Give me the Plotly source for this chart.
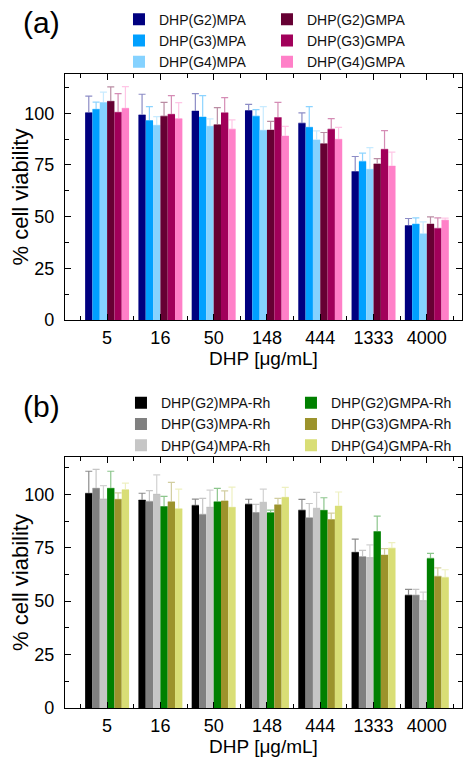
import plotly.graph_objects as go
from plotly.subplots import make_subplots

conc_labels = ["5", "16", "50", "148", "444", "1333", "4000"]

# Panel (a)
a_names = ["DHP(G2)MPA", "DHP(G3)MPA", "DHP(G4)MPA", "DHP(G2)GMPA", "DHP(G3)GMPA", "DHP(G4)GMPA"]
a_g2mpa = [100.3, 99.2, 101.1, 101.3, 95.2, 71.8, 45.7]
a_g2mpa_err = [8.0, 10.0, 8.4, 3.0, 5.0, 7.3, 3.4]
a_g3mpa = [101.9, 96.5, 98.2, 98.6, 93.2, 76.7, 46.4]
a_g3mpa_err = [3.5, 6.7, 10.3, 3.2, 10.0, 4.0, 3.0]
a_g4mpa = [105.2, 94.2, 93.7, 91.8, 87.1, 72.9, 41.7]
a_g4mpa_err = [5.0, 4.2, 3.6, 11.4, 4.4, 10.5, 5.8]
a_g2gmpa = [105.8, 98.6, 94.5, 91.9, 85.3, 75.5, 46.4]
a_g2gmpa_err = [7.0, 6.7, 8.2, 4.2, 5.4, 2.6, 3.5]
a_g3gmpa = [100.5, 99.5, 100.2, 97.9, 92.3, 82.6, 44.3]
a_g3gmpa_err = [9.0, 9.0, 7.4, 7.4, 5.1, 9.0, 5.1]
a_g4gmpa = [102.4, 97.4, 92.3, 89.0, 87.4, 74.5, 48.3]
a_g4gmpa_err = [10.5, 7.8, 4.5, 4.7, 5.8, 6.7, 1.0]

# Panel (b)
b_names = ["DHP(G2)MPA-Rh", "DHP(G3)MPA-Rh", "DHP(G4)MPA-Rh", "DHP(G2)GMPA-Rh", "DHP(G3)GMPA-Rh", "DHP(G4)GMPA-Rh"]
b_g2mpa = [100.5, 97.3, 94.8, 95.4, 92.6, 72.9, 52.8]
b_g2mpa_err = [10.3, 3.2, 3.0, 2.3, 5.0, 6.1, 2.7]
b_g3mpa = [102.8, 96.7, 90.6, 91.5, 89.0, 70.8, 52.8]
b_g3mpa_err = [8.9, 5.0, 7.5, 3.8, 6.7, 3.0, 2.7]
b_g4mpa = [97.8, 100.0, 93.9, 96.2, 93.4, 70.4, 50.3]
b_g4mpa_err = [6.3, 9.1, 8.1, 6.2, 7.5, 5.9, 3.9]
b_g2gmpa = [102.8, 94.3, 96.5, 91.4, 92.5, 82.6, 70.0]
b_g2gmpa_err = [8.0, 4.7, 6.3, 1.2, 5.9, 7.2, 2.4]
b_g3gmpa = [97.7, 96.5, 96.9, 95.1, 88.2, 71.6, 61.6]
b_g3gmpa_err = [3.0, 9.1, 4.7, 3.0, 3.0, 3.0, 4.0]
b_g4gmpa = [102.2, 93.2, 93.9, 98.6, 94.5, 74.8, 61.1]
b_g4gmpa_err = [3.0, 9.2, 9.5, 4.7, 6.6, 2.6, 3.6]

y_title = "% cell viability"
x_title = "DHP [μg/mL]"

a_colors = ["#000080", "#00a0ff", "#85d2ff", "#660033", "#a1005a", "#ff80c8"]
b_colors = ["#000000", "#808080", "#c6c6c6", "#008000", "#9c932c", "#d9de76"]

a_vals = [a_g2mpa, a_g3mpa, a_g4mpa, a_g2gmpa, a_g3gmpa, a_g4gmpa]
a_errs = [a_g2mpa_err, a_g3mpa_err, a_g4mpa_err, a_g2gmpa_err, a_g3gmpa_err, a_g4gmpa_err]
b_vals = [b_g2mpa, b_g3mpa, b_g4mpa, b_g2gmpa, b_g3gmpa, b_g4gmpa]
b_errs = [b_g2mpa_err, b_g3mpa_err, b_g4mpa_err, b_g2gmpa_err, b_g3gmpa_err, b_g4gmpa_err]

xpos = list(range(len(conc_labels)))
# legend rank so two columns: col1 = MPA, col2 = GMPA (row-wise horizontal fill)
ranks = [1, 3, 5, 2, 4, 6]


def rgba(hexc, a):
    h = hexc.lstrip("#")
    r, g, b = int(h[0:2], 16), int(h[2:4], 16), int(h[4:6], 16)
    return f"rgba({r},{g},{b},{a})"


fig = make_subplots(rows=2, cols=1, vertical_spacing=0.216)

for i in range(6):
    fig.add_trace(go.Bar(
        x=xpos, y=a_vals[i], name=a_names[i], marker=dict(color=a_colors[i], line=dict(width=0)),
        error_y=dict(type="data", symmetric=False, array=a_errs[i], arrayminus=[0] * 7,
                     color=rgba(a_colors[i], 0.45), thickness=1.2, width=3.5),
        legend="legend", legendrank=ranks[i], offsetgroup=str(i)), row=1, col=1)

for i in range(6):
    fig.add_trace(go.Bar(
        x=xpos, y=b_vals[i], name=b_names[i], marker=dict(color=b_colors[i], line=dict(width=0)),
        error_y=dict(type="data", symmetric=False, array=b_errs[i], arrayminus=[0] * 7,
                     color=rgba(b_colors[i], 0.45) if i != 2 else "rgba(180,180,180,0.6)",
                     thickness=1.2, width=3.5),
        legend="legend2", legendrank=ranks[i], offsetgroup=str(i)), row=2, col=1)

font_family = "Liberation Sans, Arial, sans-serif"
minor_x = [v + 0.5 for v in range(-1, 7)]

xcommon = dict(
    tickmode="array", tickvals=xpos, ticktext=conc_labels, range=[-0.79, 6.66],
    showline=True, linecolor="black", linewidth=1.2, mirror="allticks",
    ticks="inside", ticklen=6, tickwidth=1, tickcolor="black",
    minor=dict(tickmode="array", tickvals=minor_x, ticks="inside", ticklen=3.5, tickcolor="black", tickwidth=1),
    tickfont=dict(size=18, color="black"), showgrid=False, zeroline=False,
    title=dict(text=x_title, font=dict(size=19, color="black"), standoff=0),
    ticklabelstandoff=1, automargin=False,
)
ycommon = dict(
    tickmode="array", tickvals=[0, 25, 50, 75, 100],
    showline=True, linecolor="black", linewidth=1.2, mirror="allticks",
    ticks="inside", ticklen=6, tickwidth=1, tickcolor="black",
    minor=dict(tickmode="array", tickvals=[12.5, 37.5, 62.5, 87.5, 112.5], ticks="inside", ticklen=3.5,
               tickcolor="black", tickwidth=1),
    tickfont=dict(size=18, color="black"), showgrid=False, zeroline=False,
    ticklabelstandoff=6, automargin=False,
)

fig.update_xaxes(**xcommon)
fig.update_yaxes(**ycommon)
fig.update_yaxes(range=[0, 119], row=1, col=1)
fig.update_yaxes(range=[0, 117.5], row=2, col=1)
fig.update_yaxes(domain=[0.612, 1.0], row=1, col=1)
fig.update_yaxes(domain=[0.0, 0.396], row=2, col=1)

fig.update_layout(
    width=465, height=760,
    margin=dict(l=65, r=3, t=74, b=52, autoexpand=False),
    paper_bgcolor="white", plot_bgcolor="white",
    barmode="group", bargap=0.175, bargroupgap=0,
    font=dict(family=font_family, color="black"),
    legend=dict(orientation="h", x=0.136, y=1.111, xanchor="left", yanchor="top",
                entrywidth=103, entrywidthmode="pixels", font=dict(size=14, color="#111"),
                bgcolor="rgba(0,0,0,0)", traceorder="normal", itemwidth=30),
    legend2=dict(orientation="h", x=0.141, y=0.506, xanchor="left", yanchor="top",
                 entrywidth=125, entrywidthmode="pixels", font=dict(size=14, color="#111"),
                 bgcolor="rgba(0,0,0,0)", traceorder="normal", itemwidth=30),
    annotations=[
        dict(text="(a)", x=-0.058, y=1.082, xref="paper", yref="paper", showarrow=False,
             font=dict(size=30, color="black"), xanchor="center", yanchor="middle"),
        dict(text="(b)", x=-0.058, y=0.476, xref="paper", yref="paper", showarrow=False,
             font=dict(size=30, color="black"), xanchor="center", yanchor="middle"),
        dict(text=y_title, x=-0.112, y=0.806, xref="paper", yref="paper", showarrow=False,
             textangle=-90, font=dict(size=22, color="black"), xanchor="center", yanchor="middle"),
        dict(text=y_title, x=-0.112, y=0.198, xref="paper", yref="paper", showarrow=False,
             textangle=-90, font=dict(size=22, color="black"), xanchor="center", yanchor="middle"),
    ],
)

fig.write_html("out.html", config={"displayModeBar": False},
               post_script="document.body.style.margin='0';")
